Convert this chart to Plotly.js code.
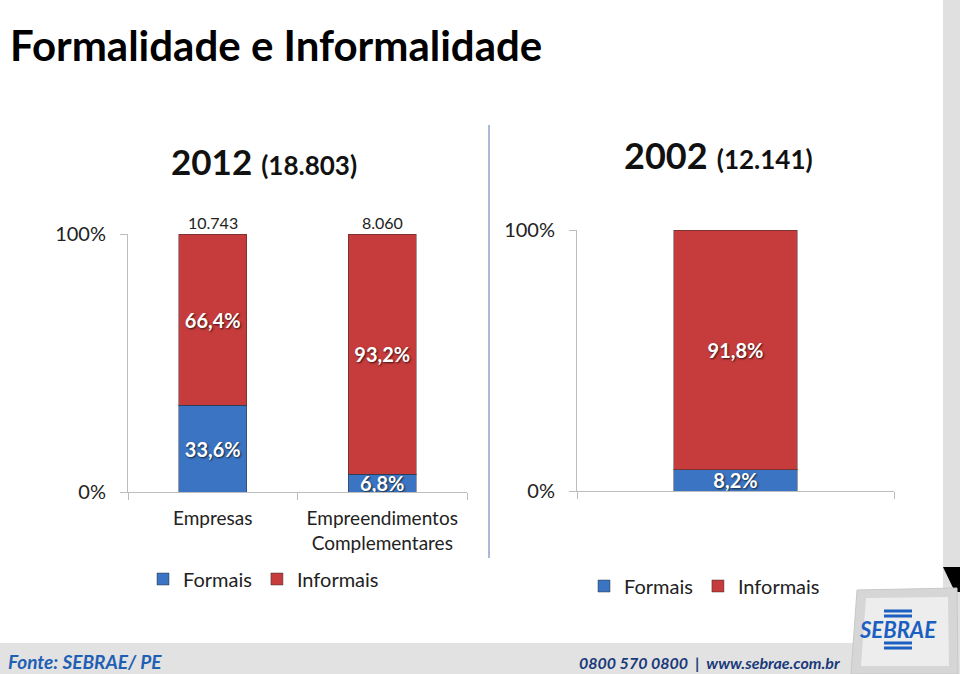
<!DOCTYPE html>
<html><head><meta charset="utf-8">
<script src="https://cdn.plot.ly/plotly-3.0.1.min.js"></script>
<style>html,body{margin:0;padding:0;background:#fff}#chart{width:960px;height:674px}</style>
</head><body><div id="chart"></div>
<script>
const categories2012 = ['Empresas', 'Empreendimentos<br>Complementares'];
const formais2012 = [33.6, 6.8];
const informais2012 = [66.4, 93.2];
const totais2012 = [10743, 8060];
const total2012 = 18803;
const categories2002 = ['2002'];
const formais2002 = [8.2];
const informais2002 = [91.8];
const total2002 = 12141;
const seriesNames = ['Formais', 'Informais'];

const BLUE = '#3b74c2', RED = '#c63b3b';
const FONT = 'Lato, "Open Sans", sans-serif';
const W = 960, H = 674;
const px = x => x / W, py = y => 1 - y / H;

const labelFont = {family: FONT, size: 20, color: '#ffffff', weight: 'bold', shadow: '1px 1px 2px rgba(0,0,0,0.7)'};

function barTrace(x, y, name, color, xa, ya, legend, width) {
  return {
    type: 'bar', x: x, y: y, name: name, xaxis: xa, yaxis: ya, legend: legend,
    width: width,
    marker: {color: color, line: {color: 'rgba(40,40,40,0.45)', width: 1}},
    texttemplate: '%{y:.1f}%', textposition: 'inside', insidetextanchor: 'middle',
    constraintext: 'none', textfont: labelFont, hoverinfo: 'skip'
  };
}

const data = [
  barTrace(categories2012, formais2012, seriesNames[0], BLUE, 'x', 'y', 'legend', 0.4),
  barTrace(categories2012, informais2012, seriesNames[1], RED, 'x', 'y', 'legend', 0.4),
  barTrace(categories2002, formais2002, seriesNames[0], BLUE, 'x2', 'y2', 'legend2', 0.39),
  barTrace(categories2002, informais2002, seriesNames[1], RED, 'x2', 'y2', 'legend2', 0.39)
];

const axisColor = '#bdbdbd';
const yBase = {
  range: [0, 100], tickvals: [0, 100], ticktext: ['0%', '100%'], showgrid: false, zeroline: false,
  showline: true, linecolor: axisColor, linewidth: 1, ticks: 'outside', ticklen: 7, tickcolor: axisColor,
  tickfont: {family: FONT, size: 20, color: '#222'}, ticklabelstandoff: 10, fixedrange: true
};
const xBase = {
  type: 'category', showgrid: false, zeroline: false, showline: true, linecolor: axisColor, linewidth: 1,
  ticks: 'outside', tickson: 'boundaries', ticklen: 7, tickcolor: axisColor,
  tickfont: {family: FONT, size: 19, color: '#222'}, ticklabelstandoff: 9, fixedrange: true
};

function fmt(n) { return String(n).replace(/\B(?=(\d{3})+(?!\d))/g, '.'); }

const annotations = [];
categories2012.forEach((c, i) => {
  annotations.push({xref: 'x', yref: 'y', x: c, y: formais2012[i] + informais2012[i], yanchor: 'bottom',
    text: fmt(totais2012[i]), showarrow: false,
    font: {family: FONT, size: 16, color: '#222'}});
});

annotations.push({xref: 'paper', yref: 'paper', x: px(264), y: py(161), xanchor: 'center', yanchor: 'middle',
  text: '<b>2012</b> <b><span style="font-size:26px">(' + fmt(total2012) + ')</span></b>', showarrow: false,
  font: {family: FONT, size: 35, color: '#111'}});
annotations.push({xref: 'paper', yref: 'paper', x: px(718), y: py(155), xanchor: 'center', yanchor: 'middle',
  text: '<b>' + categories2002[0] + '</b> <b><span style="font-size:26px">(' + fmt(total2002) + ')</span></b>', showarrow: false,
  font: {family: FONT, size: 36, color: '#111'}});
annotations.push({xref: 'paper', yref: 'paper', x: px(8), y: py(45), xanchor: 'left', yanchor: 'middle',
  text: '<b>Formalidade e Informalidade</b>', showarrow: false,
  font: {family: FONT, size: 42, color: '#000'}});
annotations.push({xref: 'paper', yref: 'paper', x: px(6), y: py(661), xanchor: 'left', yanchor: 'middle',
  text: '<b><i>Fonte: SEBRAE/ PE</i></b>', showarrow: false,
  font: {family: FONT, size: 19, color: '#1f5fb4'}});
annotations.push({xref: 'paper', yref: 'paper', x: px(842), y: py(662), xanchor: 'right', yanchor: 'middle',
  text: '<b><i>0800 570 0800  |  www.sebrae.com.br</i></b>', showarrow: false,
  font: {family: FONT, size: 16, color: '#1a3a7a'}});
annotations.push({xref: 'paper', yref: 'paper', x: px(898), y: py(629), xanchor: 'center', yanchor: 'middle',
  text: '<b><i>SEBRAE</i></b>', showarrow: false,
  font: {family: FONT, size: 22, color: '#1b5fc0'}});

const shapes = [
  {type: 'rect', xref: 'paper', yref: 'paper', x0: px(943), x1: 1, y0: 0, y1: 1, fillcolor: '#e0e0e0', line: {width: 0}, layer: 'below'},
  {type: 'rect', xref: 'paper', yref: 'paper', x0: 0, x1: 1, y0: 0, y1: py(643), fillcolor: '#e2e2e2', line: {width: 0}, layer: 'below'},
  {type: 'line', xref: 'paper', yref: 'paper', x0: px(489), x1: px(489), y0: py(125), y1: py(558), line: {color: '#a9b9d6', width: 2}},
  {type: 'path', xref: 'paper', yref: 'paper',
   path: `M ${px(943)} ${py(567)} L ${px(960)} ${py(567)} L ${px(960)} ${py(592)} L ${px(955)} ${py(592)} Z`,
   fillcolor: '#000', line: {width: 0}},
  {type: 'path', xref: 'paper', yref: 'paper',
   path: `M ${px(857)} ${py(590)} L ${px(957)} ${py(588)} L ${px(958)} ${py(674)} L ${px(851)} ${py(674)} Z`,
   fillcolor: '#d6d6d6', line: {color: '#c8c8c8', width: 1}},
  {type: 'path', xref: 'paper', yref: 'paper',
   path: `M ${px(866)} ${py(598)} L ${px(948)} ${py(597)} L ${px(949)} ${py(666)} L ${px(861)} ${py(666)} Z`,
   fillcolor: '#ededed', line: {width: 0}}
];
[611, 616, 643, 648].forEach(y => shapes.push({type: 'line', xref: 'paper', yref: 'paper',
  x0: px(884), x1: px(912), y0: py(y), y1: py(y), line: {color: '#1b5fc0', width: 3}}));

const layout = {
  width: W, height: H, margin: {l: 0, r: 0, t: 0, b: 0},
  paper_bgcolor: '#ffffff', plot_bgcolor: 'rgba(0,0,0,0)',
  separators: ',.', barmode: 'stack', showlegend: true,
  font: {family: FONT, color: '#222'},
  xaxis: Object.assign({}, xBase, {domain: [px(128), px(467)], anchor: 'y'}),
  yaxis: Object.assign({}, yBase, {domain: [py(492), py(234)], anchor: 'x'}),
  xaxis2: Object.assign({}, xBase, {domain: [px(577), px(894)], anchor: 'y2', showticklabels: false}),
  yaxis2: Object.assign({}, yBase, {domain: [py(491), py(230)], anchor: 'x2'}),
  legend: {orientation: 'h', x: px(143), y: py(579), xanchor: 'left', yanchor: 'middle',
    font: {family: FONT, size: 20, color: '#222'}, bgcolor: 'rgba(0,0,0,0)', itemwidth: 30, traceorder: 'normal'},
  legend2: {orientation: 'h', x: px(584), y: py(586), xanchor: 'left', yanchor: 'middle',
    font: {family: FONT, size: 20, color: '#222'}, bgcolor: 'rgba(0,0,0,0)', itemwidth: 30, traceorder: 'normal'},
  annotations: annotations, shapes: shapes
};

Plotly.newPlot('chart', data, layout, {displayModeBar: false, staticPlot: true});
</script></body></html>
